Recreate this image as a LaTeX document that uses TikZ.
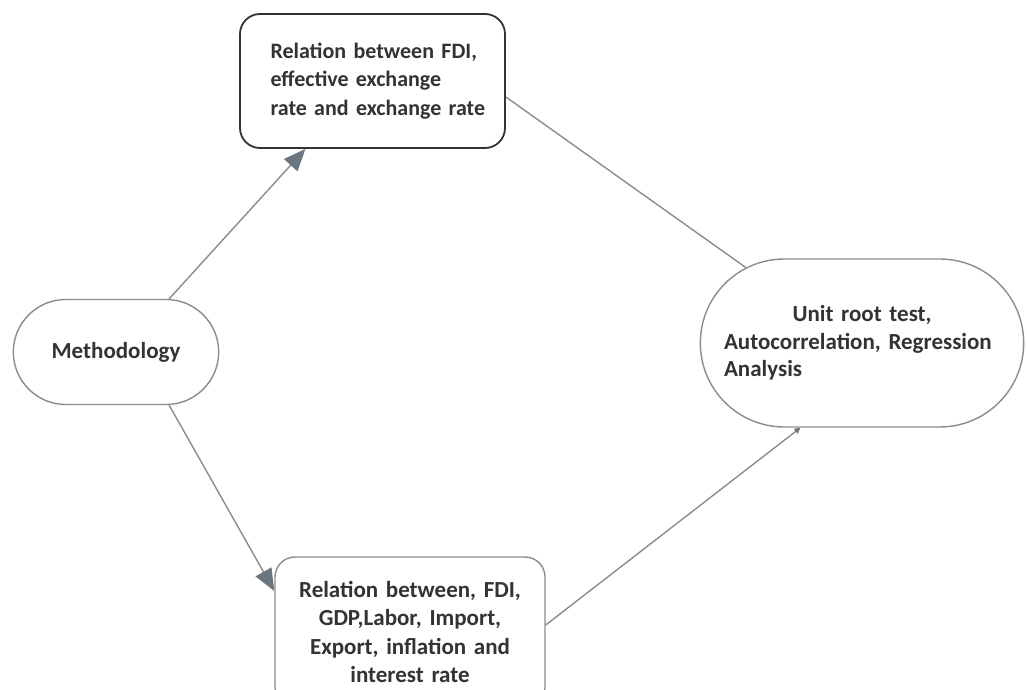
\documentclass[tikz,border=0pt]{standalone}
\usepackage{fontspec}
\setmainfont{Carlito}
\usetikzlibrary{shapes.misc,arrows.meta,calc}
\definecolor{edge}{HTML}{8C8C8C}
\definecolor{tip}{HTML}{6B7680}
\definecolor{ink}{HTML}{333333}
\begin{document}
\begin{tikzpicture}[x=1pt,y=-1pt,
  txt/.style={font=\fontsize{23}{28}\selectfont\bfseries, text=ink},
  stadium/.style={rounded rectangle, draw=edge, line width=1.4pt, fill=white, txt},
  boxnode/.style={rectangle, rounded corners=20pt, draw=edge, line width=1.4pt, fill=white, txt},
  conn/.style={draw=edge, line width=1.4pt},
  arr/.style={conn, -{Triangle[length=22pt,width=18pt,fill=tip,color=tip]}},
  smallarr/.style={conn, -{Triangle[length=6pt,width=6pt,fill=tip,color=tip]}}]
\useasboundingbox[fill=white] (0,0) rectangle (1027,690);
\node[boxnode, draw=ink, line width=1.8pt, minimum width=265pt, minimum height=134pt,
      text width=240pt, align=left, font=\fontsize{22}{28.5}\selectfont\bfseries]
  (top) at (372.5,81) {\hspace*{18pt}Relation between FDI,\\\hspace*{18pt}effective exchange\\\hspace*{18pt}rate and exchange rate};
\node[stadium, minimum width=212pt, minimum height=105pt] (meth) at (116,352) {Methodology};
\node[stadium, minimum width=330pt, minimum height=168pt, text width=276pt, align=left,
      font=\fontsize{23}{27.5}\selectfont\bfseries]
  (res) at (862,343) {\makebox[\linewidth]{Unit root test,}\\Autocorrelation, Regression\\Analysis};
\node[boxnode, minimum width=270pt, minimum height=150pt, text width=256pt, align=center,
      font=\fontsize{23}{28.5}\selectfont\bfseries]
  (bot) at (410,632) {Relation between, FDI,\\GDP,Labor, Import,\\Export, inflation and\\interest rate};
\draw[arr] (meth.45) -- ([xshift=-67pt]top.south);
\draw[arr] (meth.-45) -- ([yshift=41pt]bot.west);
\draw[conn] ([yshift=-16pt]top.east) -- (res.147);
\draw[smallarr] ([yshift=7pt]bot.east) -- (res.234);
\end{tikzpicture}
\end{document}
